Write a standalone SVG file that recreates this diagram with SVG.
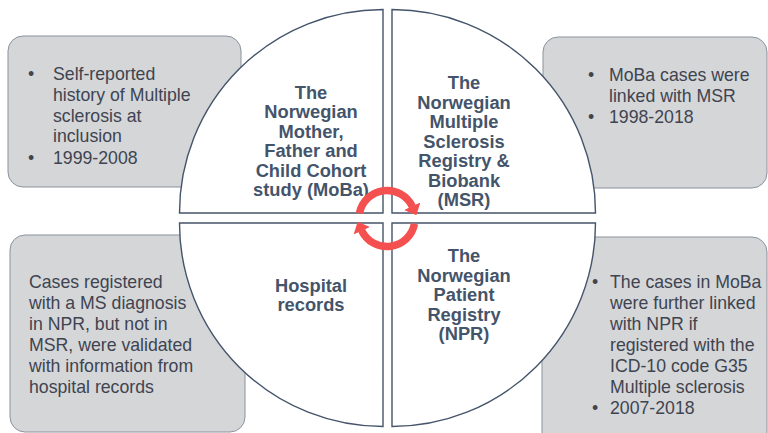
<svg xmlns="http://www.w3.org/2000/svg" width="768" height="433" viewBox="0 0 768 433">
  <defs>
    <style>
      .box { fill: #D5D6D8; stroke: #8A939D; stroke-width: 1; }
      .quad { fill: #FFFFFF; stroke: #44546A; stroke-width: 1.4; }
      .note { font-family: "Liberation Sans", Arial, sans-serif; font-size: 17.7px; fill: #3E4450; }
      .title { font-family: "Liberation Sans", Arial, sans-serif; font-size: 18.3px; font-weight: bold; fill: #44546A; text-anchor: middle; }
      .cycle { fill: none; stroke: #F4504F; stroke-width: 7.5; }
    </style>
    <marker id="cycleHead" viewBox="0 0 10 18" markerWidth="10" markerHeight="18" refX="0.5" refY="9" orient="auto" markerUnits="userSpaceOnUse">
      <path d="M0,0 L10,9 L0,18 Z" fill="#F4504F"/>
    </marker>
  </defs>

  <!-- side note boxes (drawn first, the circle sits on top) -->
  <g id="note-moba">
    <rect class="box" x="8" y="36" width="233" height="151" rx="15"/>
    <text class="note"><tspan x="28" y="80">•</tspan><tspan x="53" y="80">Self-reported</tspan><tspan x="53" y="100.8">history of Multiple</tspan><tspan x="53" y="121.6">sclerosis at</tspan><tspan x="53" y="142.4">inclusion</tspan><tspan x="28" y="163.5">•</tspan><tspan x="53" y="163.5">1999-2008</tspan></text>
  </g>
  <g id="note-msr">
    <rect class="box" x="543" y="37" width="224" height="151" rx="15"/>
    <text class="note"><tspan x="588" y="81">•</tspan><tspan x="609" y="81">MoBa cases were</tspan><tspan x="609" y="101.8">linked with MSR</tspan><tspan x="588" y="122.6">•</tspan><tspan x="609" y="122.6">1998-2018</tspan></text>
  </g>
  <g id="note-hospital">
    <rect class="box" x="10" y="235" width="235" height="197" rx="15"/>
    <text class="note"><tspan x="29" y="288">Cases registered</tspan><tspan x="29" y="309">with a MS diagnosis</tspan><tspan x="29" y="330">in NPR, but not in</tspan><tspan x="29" y="351">MSR, were validated</tspan><tspan x="29" y="372">with information from</tspan><tspan x="29" y="393">hospital records</tspan></text>
  </g>
  <g id="note-npr">
    <rect class="box" x="542" y="237" width="225" height="210" rx="15"/>
    <text class="note"><tspan x="592" y="288">•</tspan><tspan x="610" y="288">The cases in MoBa</tspan><tspan x="610" y="309">were further linked</tspan><tspan x="610" y="330">with NPR if</tspan><tspan x="610" y="351">registered with the</tspan><tspan x="610" y="372">ICD-10 code G35</tspan><tspan x="610" y="393">Multiple sclerosis</tspan><tspan x="592" y="414">•</tspan><tspan x="610" y="414">2007-2018</tspan></text>
  </g>

  <!-- quarter-circle sources -->
  <g id="moba">
    <path class="quad" d="M383,213 L179.5,213 A203.5,203.5 0 0 1 383,9.5 Z"/>
    <text class="title"><tspan x="311" y="98.5">The</tspan><tspan x="311" y="118">Norwegian</tspan><tspan x="311" y="137.5">Mother,</tspan><tspan x="311" y="157">Father and</tspan><tspan x="311" y="176.5">Child Cohort</tspan><tspan x="311" y="196">study (MoBa)</tspan></text>
  </g>
  <g id="msr">
    <path class="quad" d="M392,213 L392,9.5 A203.5,203.5 0 0 1 595.5,213 Z"/>
    <text class="title"><tspan x="464" y="89">The</tspan><tspan x="464" y="108.5">Norwegian</tspan><tspan x="464" y="128">Multiple</tspan><tspan x="464" y="147.5">Sclerosis</tspan><tspan x="464" y="167">Registry &amp;</tspan><tspan x="464" y="186.5">Biobank</tspan><tspan x="464" y="206">(MSR)</tspan></text>
  </g>
  <g id="hospital">
    <path class="quad" d="M383,223 L383,426.5 A203.5,203.5 0 0 1 179.5,223 Z"/>
    <text class="title"><tspan x="311" y="291.5">Hospital</tspan><tspan x="311" y="311">records</tspan></text>
  </g>
  <g id="npr">
    <path class="quad" d="M392,223 L595.5,223 A203.5,203.5 0 0 1 392,426.5 Z"/>
    <text class="title"><tspan x="464" y="262">The</tspan><tspan x="464" y="281.5">Norwegian</tspan><tspan x="464" y="301">Patient</tspan><tspan x="464" y="320.5">Registry</tspan><tspan x="464" y="340">(NPR)</tspan></text>
  </g>

  <!-- circular linkage arrows in the centre -->
  <g id="connectors">
    <path class="cycle" d="M359.5,213.2 A28,28 0 0 1 412.4,206.7" marker-end="url(#cycleHead)"/>
    <path class="cycle" d="M414.5,223.8 A28,28 0 0 1 361.6,230.3" marker-end="url(#cycleHead)"/>
  </g>
</svg>
